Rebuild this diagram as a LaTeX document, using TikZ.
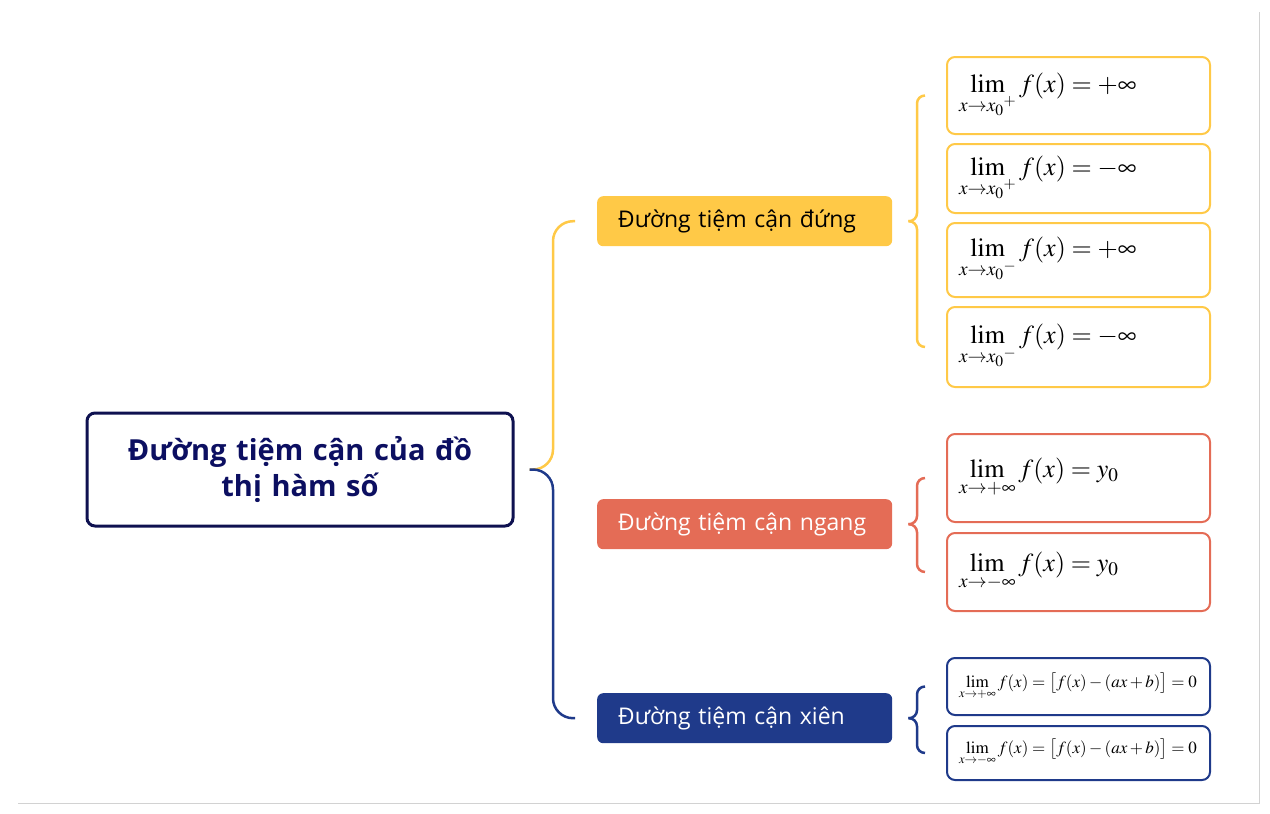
\documentclass[tikz,border=0pt]{standalone}
\usepackage{amsmath}
\usepackage{mathptmx}
\usepackage{fontspec}
\setmainfont{Open Sans}
\usetikzlibrary{positioning,calc}
\definecolor{ylwC}{HTML}{FFC947}
\definecolor{redC}{HTML}{E46C56}
\definecolor{bluC}{HTML}{1F3A8A}
\definecolor{navyC}{HTML}{0E1150}

\begin{document}
\begin{tikzpicture}[x=1pt,y=-1pt,
	branch/.style={anchor=north west, rounded corners=6pt, minimum height=50pt, text width=253pt, inner xsep=21pt, align=left, font=\fontsize{23}{27}\selectfont},
	fbox/.style={draw, line width=2pt, rounded corners=8pt, text width=239pt, inner xsep=12pt, align=left, font=\fontsize{26}{31}\selectfont},
	brace/.style={line width=2.5pt, rounded corners=#1},
	brace/.default=20pt]
	\useasboundingbox (0,0) rectangle (1270,814);
	\draw[gray!35, line width=1pt] (18,803) -- (1259,803) -- (1259,12);
	%
	\node[draw=navyC, line width=3pt, rounded corners=8pt, minimum width=426pt, minimum height=113pt, text width=400pt, align=center, text=navyC!90!blue, font=\bfseries\fontsize{29}{36}\selectfont] (title) at (300,469.5) {Đường tiệm cận của đồ\\thị hàm số};
	%
	\node[branch, fill=ylwC] (dung) at (597,196) {Đường tiệm cận đứng};
	\node[branch, fill=redC, text=white] (ngang) at (597,499) {Đường tiệm cận ngang};
	\node[branch, fill=bluC, text=white] (xien) at (597,693) {Đường tiệm cận xiên};
	%
	\node[fbox, draw=ylwC, minimum height=77pt, anchor=north west] (y1) at (946,56) {$\lim\limits_{x\to {x_0}^{+}} f(x)=+\infty$};
	\node[fbox, draw=ylwC, minimum height=69pt, below=8pt of y1] (y2) {$\lim\limits_{x\to {x_0}^{+}} f(x)=-\infty$};
	\node[fbox, draw=ylwC, minimum height=74pt, below=8pt of y2] (y3) {$\lim\limits_{x\to {x_0}^{-}} f(x)=+\infty$};
	\node[fbox, draw=ylwC, minimum height=80pt, below=8pt of y3] (y4) {$\lim\limits_{x\to {x_0}^{-}} f(x)=-\infty$};
	%
	\node[fbox, draw=redC, minimum height=88pt, anchor=north west] (r1) at (946,433) {$\lim\limits_{x\to+\infty} f(x)=y_0$};
	\node[fbox, draw=redC, minimum height=78pt, below=9pt of r1] (r2) {$\lim\limits_{x\to-\infty} f(x)=y_0$};
	%
	\node[fbox, draw=bluC, minimum height=57pt, anchor=north west, font=\fontsize{17}{20}\selectfont] (b1) at (946,657) {$\lim\limits_{x\to+\infty} f(x)=\big[f(x)-(ax+b)\big]=0$};
	\node[fbox, draw=bluC, minimum height=54pt, below=9pt of b1, font=\fontsize{17}{20}\selectfont] (b2) {$\lim\limits_{x\to-\infty} f(x)=\big[f(x)-(ax+b)\big]=0$};
	%
	\draw[ylwC, brace] ([xshift=15pt]title.east) -| ([xshift=-44pt]dung.west) -- ([xshift=-22pt]dung.west);
	\draw[bluC, brace] ([xshift=15pt]title.east) -| ([xshift=-44pt]xien.west) -- ([xshift=-22pt]xien.west);
	%
	\draw[ylwC, brace=8pt] ([xshift=16pt]dung.east) -| ([xshift=-29pt]y1.west) -- ([xshift=-21pt]y1.west);
	\draw[ylwC, brace=8pt] ([xshift=16pt]dung.east) -| ([xshift=-29pt]y4.west) -- ([xshift=-21pt]y4.west);
	\draw[redC, brace=8pt] ([xshift=16pt]ngang.east) -| ([xshift=-29pt]r1.west) -- ([xshift=-21pt]r1.west);
	\draw[redC, brace=8pt] ([xshift=16pt]ngang.east) -| ([xshift=-29pt]r2.west) -- ([xshift=-21pt]r2.west);
	\draw[bluC, brace=8pt] ([xshift=16pt]xien.east) -| ([xshift=-29pt]b1.west) -- ([xshift=-21pt]b1.west);
	\draw[bluC, brace=8pt] ([xshift=16pt]xien.east) -| ([xshift=-29pt]b2.west) -- ([xshift=-21pt]b2.west);
\end{tikzpicture}
\end{document}
